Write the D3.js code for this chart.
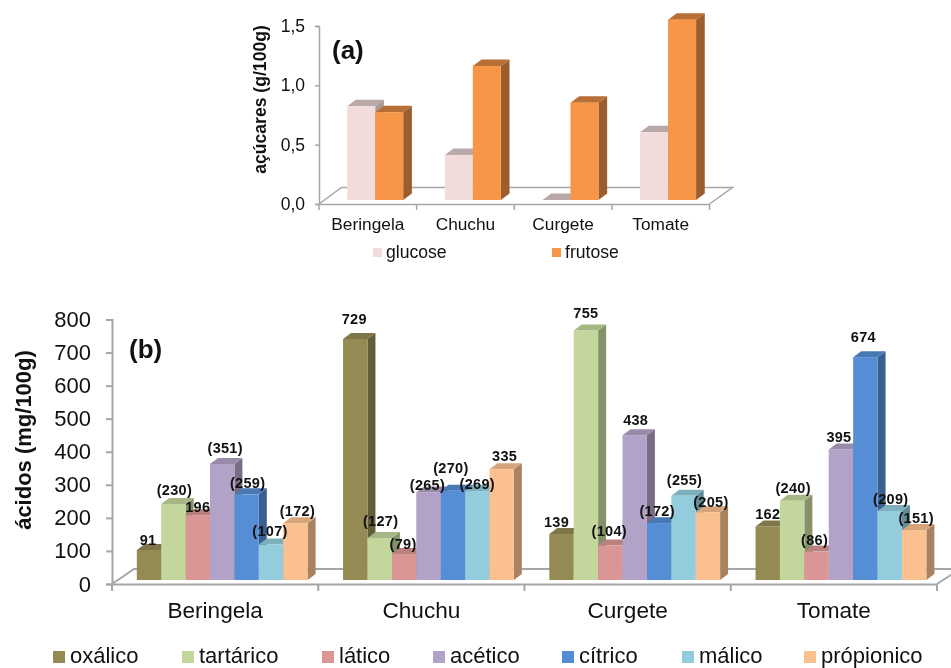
<!DOCTYPE html>
<html><head><meta charset="utf-8">
<script src="https://cdn.jsdelivr.net/npm/d3@7"></script>
<style>
html,body{margin:0;padding:0;background:#fff;overflow:hidden}
svg{display:block;filter:blur(0.4px)}
text{font-family:"Liberation Sans",Arial,sans-serif;fill:#111}
</style></head><body>
<svg id="c" width="951" height="668"></svg>
<script>
const categories = ["Beringela","Chuchu","Curgete","Tomate"];
// panel (a)
const sugarNames = ["glucose","frutose"];
const glucose = [0.79,0.38,0,0.57];
const frutose = [0.74,1.13,0.82,1.52];
const sugarTicks = [0,0.5,1,1.5];
// panel (b)
const acidNames = ["oxálico","tartárico","látic\u006f","acético","cítrico","málico","própionico"];
const oxalico = [91,729,139,162];
const tartarico = [230,127,755,240];
const latico = [196,79,104,86];
const acetico = [351,265,438,395];
const citrico = [259,270,172,674];
const malico = [107,269,255,209];
const propionico = [172,335,205,151];
const acidTicks = [0,100,200,300,400,500,600,700,800];
// labels printed in brackets in the reference (per acid, per category)
const acidBracketed = [
 [0,0,0,0],[1,1,0,1],[0,1,1,1],[1,1,0,0],[1,1,1,0],[1,1,1,1],[1,0,1,1]
];
// hand-placed label nudges from the reference, per acid, per category
const labelRise = [
 [10,20,12,12],[14,17,17,13],[8,10,15,12],[16,7,15,12],[11,23,12,20],[14,7,16,12],[12,13,10,12]
];
const labelShift = [
 [-1,-1,-5,0],[1,1,0,1],[0,-1,-1,-2],[3,-1,1,-2],[1,-2,-2,-2],[-1,0,1,1],[2,3,3,2]
];

const svg = d3.select("#c");
const axisGrey = "#a6a6a6";
const shade = (c,k)=>d3.rgb(c).darker(k).formatHex();

function bar3d(g, x, w, yTop, yBase, dx, dy, col, topCol, sideCol){
  g.append("path").attr("fill",sideCol)
    .attr("d",d3.line()([[x+w,yBase],[x+w+dx,yBase-dy],[x+w+dx,yTop-dy],[x+w,yTop]])+"Z");
  g.append("path").attr("fill",topCol)
    .attr("d",d3.line()([[x,yTop],[x+dx,yTop-dy],[x+w+dx,yTop-dy],[x+w,yTop]])+"Z");
  g.append("rect").attr("x",x).attr("y",yTop).attr("width",w).attr("height",Math.max(0,yBase-yTop)).attr("fill",col);
}

function floor(g, x0, x1, yFront, xBack0, xBack1, yBack, sw){
  g.append("path").attr("fill","none").attr("stroke",axisGrey).attr("stroke-width",sw)
    .attr("d",d3.line()([[x0,yFront],[xBack0,yBack],[xBack1,yBack],[x1,yFront]]));
}

/* ---------- panel (a) ---------- */
(function(){
  const g = svg.append("g");
  const x = d3.scaleBand().domain(categories).range([319,709.5]);
  const y = d3.scaleLinear().domain([0,1.5]).range([204,26]);
  const h = d3.scaleLinear().domain([0,1.5]).range([200,22]);
  const s = d3.scaleBand().domain(sugarNames).range([0,56]);
  floor(g,319,709.5,204,341.5,732.5,187.5,1.5);
  const series = [glucose,frutose];
  const cols = ["#F2DCDB","#F79646"];
  const tops = ["#B8A8A8","#B86F35"];
  const sides = ["#A89A9A","#9C5E2C"];
  categories.forEach((c,i)=>{
    sugarNames.forEach((n,k)=>{
      bar3d(g,x(c)+28.2+s(n),s.bandwidth(),h(series[k][i]),200,8.7,6.5,cols[k],tops[k],sides[k]);
    });
  });
  const ya = g.append("g").attr("transform","translate(319,0)")
    .call(d3.axisLeft(y).tickValues(sugarTicks).tickSize(4).tickPadding(10)
      .tickFormat(d=>d3.format(".1f")(d).replace(".",",")));
  ya.select(".domain").attr("stroke",axisGrey).attr("stroke-width",1.5);
  ya.selectAll(".tick line").attr("stroke",axisGrey).attr("stroke-width",1.5);
  ya.selectAll("text").attr("font-size",17.5).attr("font-family","Liberation Sans");
  const xa = g.append("g").attr("transform","translate(0,204)")
    .call(d3.axisBottom(x).tickSize(0).tickPadding(14));
  xa.select(".domain").attr("stroke",axisGrey).attr("stroke-width",1.5);
  xa.selectAll("text").attr("font-size",17.3).attr("font-family","Liberation Sans");
  g.selectAll(".ct").data(categories.map(c=>x(c)).concat([709.5])).join("line")
    .attr("x1",d=>d).attr("x2",d=>d).attr("y1",204).attr("y2",210)
    .attr("stroke",axisGrey).attr("stroke-width",1.5);
  g.append("text").attr("transform","translate(260,99.5) rotate(-90)").attr("text-anchor","middle")
    .attr("dominant-baseline","central").attr("font-weight","bold").attr("font-size",17.6).text("açúcares (g/100g)");
  g.append("text").attr("x",332).attr("y",59).attr("font-weight","bold").attr("font-size",26).text("(a)");
  const lx = d3.scaleOrdinal().domain(sugarNames).range([373,552]);
  sugarNames.forEach((n,k)=>{
    g.append("rect").attr("x",lx(n)).attr("y",248).attr("width",9).attr("height",9).attr("fill",cols[k]);
    g.append("text").attr("x",lx(n)+13).attr("y",258).attr("font-size",17.6).text(n);
  });
})();

/* ---------- panel (b) ---------- */
(function(){
  const g = svg.append("g");
  const x = d3.scaleBand().domain(categories).range([112,937]);
  const y = d3.scaleLinear().domain([0,800]).range([584,319.5]);
  const h = d3.scaleLinear().domain([0,800]).range([580,315.5]);
  const s = d3.scaleBand().domain(acidNames).range([0,170.8]);
  const series = [oxalico,tartarico,latico,acetico,citrico,malico,propionico];
  const cols = ["#948A54","#C3D69B","#D99694","#B3A2C7","#558ED5","#93CDDD","#FAC090"];
  floor(g,112,937,584,134,960,569,2);
  categories.forEach((c,i)=>{
    acidNames.forEach((n,k)=>{
      bar3d(g,x(c)+24.8+s(n),s.bandwidth(),h(series[k][i]),580,8,6,cols[k],shade(cols[k],0.45),shade(cols[k],1.1));
    });
  });
  const ya = g.append("g").attr("transform","translate(112,0)")
    .call(d3.axisLeft(y).tickValues(acidTicks).tickSize(6).tickPadding(15));
  ya.select(".domain").attr("stroke",axisGrey).attr("stroke-width",2);
  ya.selectAll(".tick line").attr("stroke",axisGrey).attr("stroke-width",2);
  ya.selectAll("text").attr("font-size",22).attr("font-family","Liberation Sans");
  const xa = g.append("g").attr("transform","translate(0,584)")
    .call(d3.axisBottom(x).tickSize(0).tickPadding(18));
  xa.select(".domain").attr("stroke",axisGrey).attr("stroke-width",2);
  xa.selectAll("text").attr("font-size",22.6).attr("font-family","Liberation Sans");
  g.selectAll(".ct").data(categories.map(c=>x(c)).concat([937])).join("line")
    .attr("x1",d=>d).attr("x2",d=>d).attr("y1",584).attr("y2",591)
    .attr("stroke",axisGrey).attr("stroke-width",2);
  // value labels
  categories.forEach((c,i)=>{
    acidNames.forEach((n,k)=>{
      const v = series[k][i];
      g.append("text")
        .attr("x",x(c)+24.8+s(n)+s.bandwidth()/2+labelShift[k][i])
        .attr("y",h(v)-labelRise[k][i])
        .attr("text-anchor","middle").attr("dominant-baseline","central")
        .attr("font-weight","bold").attr("font-size",14.5).attr("letter-spacing",0.3)
        .text(acidBracketed[k][i] ? "("+v+")" : v);
    });
  });
  g.append("text").attr("transform","translate(23,440) rotate(-90)").attr("text-anchor","middle")
    .attr("dominant-baseline","central").attr("font-weight","bold").attr("font-size",22).text("ácidos (mg/100g)");
  g.append("text").attr("x",129).attr("y",358).attr("font-weight","bold").attr("font-size",26).text("(b)");
  const lx = d3.scaleOrdinal().domain(acidNames).range([53,182,322,433,562,682,804]);
  acidNames.forEach((n,k)=>{
    g.append("rect").attr("x",lx(n)).attr("y",651).attr("width",12).attr("height",12).attr("fill",cols[k]);
    g.append("text").attr("x",lx(n)+17).attr("y",663).attr("font-size",22).text(n);
  });
})();
</script>
</body></html>
